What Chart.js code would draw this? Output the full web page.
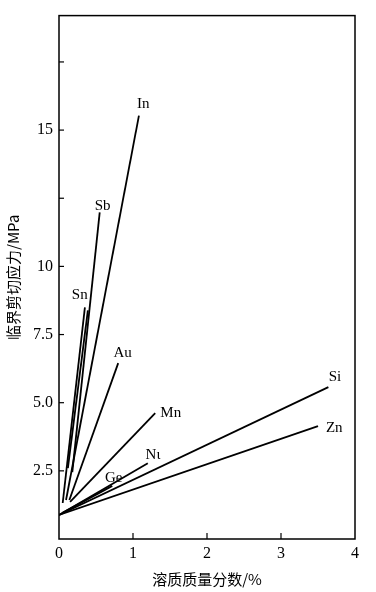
<!doctype html>
<html>
    <head>
        <meta charset="UTF-8" />
        <title>临界剪切应力</title>
        <script src="https://cdn.jsdelivr.net/npm/chart.js@4"></script>
        <style>
            body { margin: 0; background: #fff; }
            #wrap { width: 376px; height: 592px; }
        </style>
    </head>

    <body>
        <div id="wrap"><canvas id="myChart" width="376" height="592"></canvas></div>

        <script>
        // solute names and the two ends of each line (x = 溶质质量分数 %, y = MPa)
        var solutes = ['In', 'Sb', 'Sn', 'Sn', 'Au', 'Mn', 'Ni', 'Ge', 'Si', 'Zn'];
        var startX  = [0.095, 0.18, 0.05, 0.12, 0.14, 0.15, 0.00, 0.04, 0.00, 0.00];
        var startY  = [1.43, 2.45, 1.32, 2.60, 1.43, 1.36, 0.88, 0.95, 0.88, 0.88];
        var endX    = [1.08, 0.55, 0.35, 0.39, 0.80, 1.30, 1.20, 0.72, 3.64, 3.50];
        var endY    = [15.53, 11.98, 8.50, 8.39, 6.45, 4.62, 2.78, 1.95, 5.57, 4.14];

        // text labels next to the line ends
        var labelText = ['In', 'Sb', 'Sn', 'Au', 'Mn', 'Nι', 'Ge', 'Si', 'Zn'];
        var labelX    = [1.14, 0.59, 0.28, 0.86, 1.51, 1.27, 0.74, 3.73, 3.72];
        var labelY    = [15.97, 12.23, 8.94, 6.81, 4.62, 3.08, 2.23, 5.93, 4.07];

        // y tick labels as printed
        var yTickText = { 2.5: '2.5', 5: '5.0', 7.5: '7.5', 10: '10', 15: '15' };

        var datasets = [];
        for (var i = 0; i < solutes.length; i++) {
            datasets.push({
                label: solutes[i],
                data: [{x: startX[i], y: startY[i]}, {x: endX[i], y: endY[i]}],
                borderColor: '#000',
                borderWidth: 1.8,
                pointRadius: 0,
                fill: false
            });
        }

        // frame, inside ticks and solute names
        var extras = {
            id: 'extras',
            afterDraw: function(chart) {
                var c = chart.ctx, a = chart.chartArea;
                var xs = chart.scales.x, ys = chart.scales.y;
                c.save();
                c.strokeStyle = '#000';
                c.lineWidth = 1.5;
                c.strokeRect(a.left, a.top, a.right - a.left, a.bottom - a.top);
                c.lineWidth = 1.2;
                [1, 2, 3].forEach(function(v) {
                    var px = xs.getPixelForValue(v);
                    c.beginPath(); c.moveTo(px, a.bottom); c.lineTo(px, a.bottom - 6); c.stroke();
                });
                [2.5, 5, 7.5, 10, 12.5, 15, 17.5].forEach(function(v) {
                    var py = ys.getPixelForValue(v);
                    c.beginPath(); c.moveTo(a.left, py); c.lineTo(a.left + 5, py); c.stroke();
                });
                c.fillStyle = '#000';
                c.font = '15px "Liberation Serif"';
                c.textAlign = 'center';
                c.textBaseline = 'middle';
                for (var j = 0; j < labelText.length; j++) {
                    c.fillText(labelText[j], xs.getPixelForValue(labelX[j]), ys.getPixelForValue(labelY[j]));
                }
                c.restore();
            }
        };

        var ctx = document.getElementById('myChart').getContext('2d');
        var myChart = new Chart(ctx, {
            type: 'line',
            data: { datasets: datasets },
            plugins: [extras],
            options: {
                responsive: false,
                animation: false,
                layout: { padding: { top: 14, right: 21, left: 0, bottom: 0 } },
                plugins: { legend: { display: false }, tooltip: { enabled: false } },
                scales: {
                    x: {
                        type: 'linear',
                        min: 0,
                        max: 4,
                        afterFit: function(s) { s.height = 53; },
                        grid: { display: false, drawTicks: false },
                        border: { display: false },
                        ticks: {
                            stepSize: 1,
                            padding: 5,
                            color: '#000',
                            font: { family: 'Liberation Serif', size: 16 }
                        },
                        title: {
                            display: true,
                            text: '溶质质量分数/%',
                            color: '#000',
                            padding: { top: 2 },
                            font: { family: '"Noto Sans CJK SC"', size: 15 }
                        }
                    },
                    y: {
                        type: 'linear',
                        min: 0,
                        max: 19.2,
                        afterFit: function(s) { s.width = 59; },
                        afterBuildTicks: function(s) {
                            s.ticks = [2.5, 5, 7.5, 10, 15].map(function(v) { return {value: v}; });
                        },
                        grid: { display: false, drawTicks: false },
                        border: { display: false },
                        ticks: {
                            padding: 6,
                            color: '#000',
                            font: { family: 'Liberation Serif', size: 16 },
                            callback: function(v) { return yTickText[v] || ''; }
                        },
                        title: {
                            display: true,
                            text: '临界剪切应力/MPa',
                            color: '#000',
                            padding: { bottom: 4 },
                            font: { family: '"Noto Sans CJK SC"', size: 15 }
                        }
                    }
                }
            }
        });
        </script>
    </body>
</html>
